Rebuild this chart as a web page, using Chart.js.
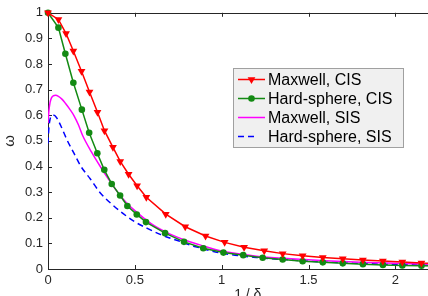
<!DOCTYPE html>
<html>
<head>
<meta charset="utf-8">
<script src="https://cdn.jsdelivr.net/npm/chart.js@4/dist/chart.umd.min.js"></script>
<style>
  html, body { margin: 0; padding: 0; overflow: hidden; background: #fff; }
  #wrap { width: 428px; height: 296px; overflow: hidden; position: relative; }
  canvas { position: absolute; left: 0; top: 0; }
</style>
</head>
<body>
<div id="wrap"><canvas id="myChart" width="470" height="310"></canvas></div>
<script>
// values (x = 1/delta, y = omega)
var maxwellCisX = [0, 0.06, 0.104, 0.146, 0.193, 0.239, 0.285, 0.325, 0.374, 0.416, 0.464, 0.513, 0.566, 0.678, 0.79, 0.907, 1.017, 1.129, 1.245, 1.351, 1.466, 1.582, 1.697, 1.813, 1.928, 2.04, 2.15, 2.26];
var maxwellCisY = [1, 0.974, 0.919, 0.851, 0.772, 0.691, 0.612, 0.54, 0.475, 0.42, 0.37, 0.325, 0.28, 0.214, 0.165, 0.129, 0.104, 0.085, 0.071, 0.06, 0.052, 0.045, 0.04, 0.035, 0.031, 0.027, 0.023, 0.021];

var hardCisX = [0, 0.06, 0.1, 0.146, 0.195, 0.237, 0.284, 0.324, 0.367, 0.415, 0.457, 0.511, 0.564, 0.674, 0.783, 0.894, 1.01, 1.124, 1.236, 1.351, 1.466, 1.582, 1.697, 1.813, 1.928, 2.04, 2.15, 2.26];
var hardCisY = [1, 0.942, 0.84, 0.727, 0.622, 0.532, 0.452, 0.387, 0.332, 0.287, 0.246, 0.213, 0.183, 0.14, 0.106, 0.081, 0.064, 0.054, 0.044, 0.037, 0.03, 0.026, 0.022, 0.019, 0.016, 0.014, 0.013, 0.012];

var maxwellSisX = [0, 0.005, 0.012, 0.02, 0.03, 0.044, 0.06, 0.08, 0.1, 0.125, 0.15, 0.175, 0.2, 0.25, 0.3, 0.35, 0.4, 0.45, 0.5, 0.6, 0.7, 0.8, 0.9, 1.0, 1.2, 1.4, 1.6, 1.8, 2.0, 2.2, 2.3];
var maxwellSisY = [0.57, 0.615, 0.65, 0.668, 0.676, 0.678, 0.674, 0.663, 0.647, 0.624, 0.598, 0.563, 0.52, 0.457, 0.401, 0.349, 0.301, 0.26, 0.228, 0.174, 0.137, 0.11, 0.089, 0.07, 0.05, 0.04, 0.032, 0.026, 0.022, 0.019, 0.018];

var hardSisX = [0, 0.005, 0.012, 0.02, 0.035, 0.05, 0.073, 0.11, 0.15, 0.19, 0.243, 0.3, 0.367, 0.435, 0.5, 0.568, 0.65, 0.75, 0.85, 1.0, 1.2, 1.4, 1.6, 1.8, 2.0, 2.2, 2.3];
var hardSisY = [0.49, 0.55, 0.585, 0.598, 0.6, 0.59, 0.56, 0.503, 0.451, 0.4, 0.352, 0.298, 0.253, 0.215, 0.184, 0.16, 0.134, 0.11, 0.087, 0.062, 0.045, 0.035, 0.027, 0.022, 0.018, 0.015, 0.014];

var xTicks = [0, 0.5, 1, 1.5, 2];
var yTicks = [0, 0.1, 0.2, 0.3, 0.4, 0.5, 0.6, 0.7, 0.8, 0.9, 1];

function pts(xs, ys) {
  return xs.map(function (x, i) { return { x: x, y: ys[i] }; });
}

function plainLabel(v) { return String(+v.toFixed(2)); }

Chart.defaults.font.family = "'Liberation Sans', Arial, sans-serif";
Chart.defaults.color = '#262626';

var axisColor = '#262626';

// box round the axes, with inward ticks
var frame = {
  id: 'frame',
  beforeDatasetsDraw: function (chart) {
    var ctx = chart.ctx, a = chart.chartArea;
    var x = chart.scales.x, y = chart.scales.y;
    ctx.save();
    ctx.strokeStyle = axisColor;
    ctx.lineWidth = 1;
    ctx.strokeRect(Math.round(a.left) + 0.5, Math.round(a.top) + 0.5, Math.round(a.right - a.left), Math.round(a.bottom - a.top));
    ctx.beginPath();
    xTicks.forEach(function (v) {
      var px = Math.round(x.getPixelForValue(v)) + 0.5;
      ctx.moveTo(px, a.bottom); ctx.lineTo(px, a.bottom - 4);
      ctx.moveTo(px, a.top); ctx.lineTo(px, a.top + 4);
    });
    yTicks.forEach(function (v) {
      var py = Math.round(y.getPixelForValue(v)) + 0.5;
      ctx.moveTo(a.left, py); ctx.lineTo(a.left + 4, py);
      ctx.moveTo(a.right, py); ctx.lineTo(a.right - 4, py);
    });
    ctx.stroke();
    ctx.restore();
  }
};

function marker(ctx, ds, cx, cy) {
  ctx.fillStyle = ds.pointBackgroundColor;
  ctx.beginPath();
  if (ds.pointStyle === 'triangle') {
    var r = ds.pointRadius;
    ctx.moveTo(cx, cy + r);
    ctx.lineTo(cx - r * 0.866, cy - r * 0.5);
    ctx.lineTo(cx + r * 0.866, cy - r * 0.5);
    ctx.closePath();
  } else {
    ctx.arc(cx, cy, ds.pointRadius, 0, Math.PI * 2);
  }
  ctx.fill();
}

var legendBox = {
  id: 'legendBox',
  afterDraw: function (chart) {
    var ctx = chart.ctx;
    ctx.save();
    ctx.fillStyle = '#f0f0f0';
    ctx.strokeStyle = '#a0a0a0';
    ctx.lineWidth = 1;
    ctx.fillRect(233.5, 68.5, 170, 79);
    ctx.strokeRect(233.5, 68.5, 170, 79);
    ctx.font = "16px 'Liberation Sans', Arial, sans-serif";
    ctx.textBaseline = 'middle';
    chart.data.datasets.forEach(function (ds, i) {
      var cy = 79.5 + i * 19;
      ctx.strokeStyle = ds.borderColor;
      ctx.lineWidth = ds.borderWidth;
      ctx.setLineDash(ds.borderDash || []);
      ctx.beginPath();
      ctx.moveTo(238, cy);
      ctx.lineTo(ds.borderDash ? 257 : 265, cy);
      ctx.stroke();
      ctx.setLineDash([]);
      if (ds.pointRadius > 0) marker(ctx, ds, 251.5, cy);
      ctx.fillStyle = '#000';
      ctx.fillText(ds.label, 268, cy + 1);
    });
    ctx.restore();
  }
};

var ctx = document.getElementById('myChart').getContext('2d');
var chart = new Chart(ctx, {
  type: 'scatter',
  data: {
    datasets: [{
      label: 'Maxwell, CIS',
      data: pts(maxwellCisX, maxwellCisY),
      showLine: true,
      borderColor: '#ff0000',
      pointBackgroundColor: '#ff0000',
      borderWidth: 1.5,
      pointStyle: 'triangle',
      rotation: 180,
      pointRadius: 4.5,
      pointBorderWidth: 0,
      clip: false
    }, {
      label: 'Hard-sphere, CIS',
      data: pts(hardCisX, hardCisY),
      showLine: true,
      borderColor: '#138a13',
      pointBackgroundColor: '#138a13',
      borderWidth: 1.5,
      pointStyle: 'circle',
      pointRadius: 3.3,
      pointBorderWidth: 0,
      clip: false
    }, {
      label: 'Maxwell, SIS',
      data: pts(maxwellSisX, maxwellSisY),
      showLine: true,
      borderColor: '#ff00ff',
      borderWidth: 1.5,
      pointRadius: 0,
      cubicInterpolationMode: 'monotone'
    }, {
      label: 'Hard-sphere, SIS',
      data: pts(hardSisX, hardSisY),
      showLine: true,
      borderColor: '#0000ff',
      borderWidth: 1.5,
      borderDash: [6, 4],
      pointRadius: 0,
      cubicInterpolationMode: 'monotone'
    }]
  },
  options: {
    responsive: false,
    animation: false,
    layout: { padding: { left: 0, top: 9, right: 22.5, bottom: 0 } },
    plugins: { legend: { display: false }, tooltip: { enabled: false } },
    scales: {
      x: {
        type: 'linear',
        min: 0,
        max: 2.3,
        afterBuildTicks: function (s) { s.ticks = xTicks.map(function (v) { return { value: v }; }); },
        afterFit: function (s) { s.height = 41; },
        grid: { display: false, drawTicks: false },
        border: { display: false },
        ticks: { font: { size: 13 }, padding: 4, maxRotation: 0, callback: plainLabel },
        title: { display: true, text: '1 / δ', font: { size: 14 }, padding: { top: 0, bottom: 6 } }
      },
      y: {
        min: 0,
        max: 1,
        afterBuildTicks: function (s) { s.ticks = yTicks.map(function (v) { return { value: v }; }); },
        afterFit: function (s) { s.width = 48; },
        grid: { display: false, drawTicks: false },
        border: { display: false },
        ticks: { font: { size: 13 }, padding: 5, callback: plainLabel },
        title: { display: true, text: 'ω', font: { size: 15 }, padding: { top: 1, bottom: 0 } }
      }
    }
  },
  plugins: [frame, legendBox]
});
</script>
</body>
</html>
